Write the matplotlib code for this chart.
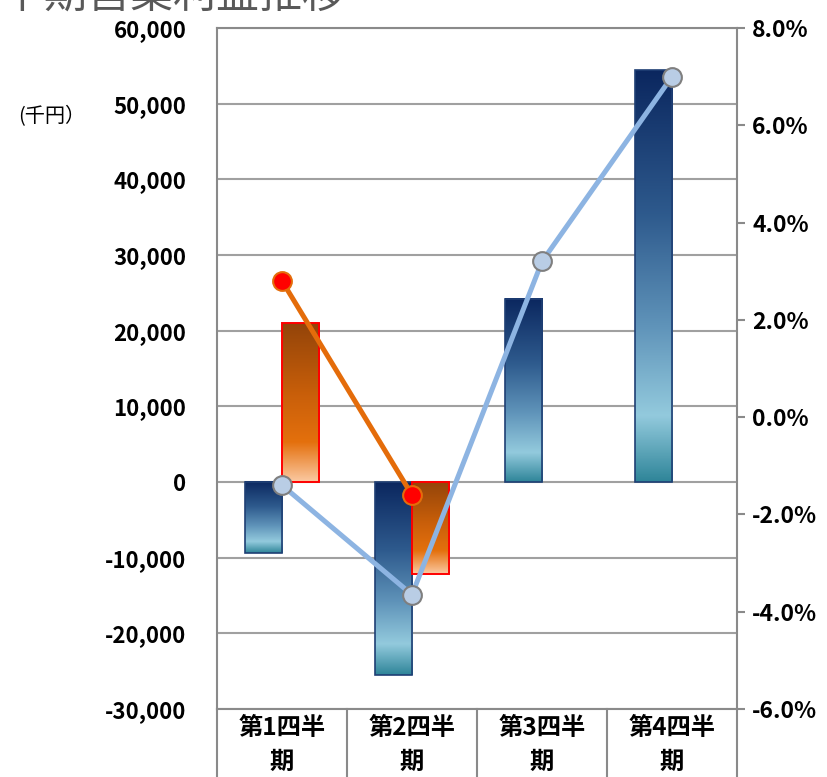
import matplotlib

matplotlib.use("Agg")
import matplotlib.pyplot as plt
import numpy as np
from matplotlib.colors import LinearSegmentedColormap
from matplotlib.ticker import FuncFormatter, MultipleLocator

plt.rcParams['font.family'] = ['Noto Sans CJK JP', 'DejaVu Sans']

# --- データ ---
categories = ["第1四半\n期", "第2四半\n期", "第3四半\n期", "第4四半\n期"]
profit_blue = [-9400, -25500, 24200, 54400]      # 千円
profit_orange = [21000, -12200, 0, 0]            # 千円
rate_blue = [-1.4, -3.65, 3.2, 7.0]               # %
rate_orange = [2.8, -1.6]                         # %
title = "四半期営業利益推移"

blue_cmap = LinearSegmentedColormap.from_list(
    "ocean", [(0, "#0b275f"), (0.35, "#2e5a8d"), (0.62, "#5f93b9"),
              (0.84, "#93cadd"), (1, "#2f8599")])
orange_cmap = LinearSegmentedColormap.from_list(
    "fire", [(0, "#934409"), (0.45, "#c95f0a"), (0.75, "#e4700d"),
             (1, "#fbc9a2")])

fig = plt.figure(figsize=(8.27, 7.77), dpi=100)
ax = fig.add_axes([217 / 827, 1 - 709 / 777, 520 / 827, 681 / 777])
x = np.arange(len(categories))
w = 0.285

bars_b = ax.bar(x - w / 2, profit_blue, w, color="none",
                edgecolor="#1f3f74", lw=1.2, zorder=4)
bars_o = ax.bar(x + w / 2, profit_orange, w, color="none",
                edgecolor="#ff0000", lw=1.4, zorder=4)


def fill_gradient(bars, cmap):
    # グラデーションを各バーの範囲に描く (高さ0のバーは非表示)
    grad = np.linspace(0, 1, 256).reshape(-1, 1)
    for b in bars:
        h = b.get_height()
        if h == 0:
            b.set_visible(False)
            continue
        y0, y1 = sorted([b.get_y(), b.get_y() + h])
        ax.imshow(grad, cmap=cmap, aspect="auto", origin="upper",
                  extent=[b.get_x(), b.get_x() + b.get_width(), y0, y1],
                  zorder=3)


fill_gradient(bars_b, blue_cmap)
fill_gradient(bars_o, orange_cmap)

ax.set_xlim(-0.5, 3.5)
ax.set_ylim(-30000, 60000)
ax.yaxis.set_major_locator(MultipleLocator(10000))
ax.yaxis.set_major_formatter(FuncFormatter(lambda v, p: f"{v:,.0f}"))
ax.grid(axis="y", color="#a0a0a0", lw=1.5)
ax.set_axisbelow(True)
ax.tick_params(axis="y", length=0, pad=22, labelsize=16)
for lab in ax.get_yticklabels():
    lab.set_fontweight("bold")
ax.set_xticks(x)
ax.set_xticklabels(categories, fontsize=17.5, fontweight="bold", linespacing=1.5)
ax.tick_params(axis="x", length=0, pad=5)
for s in ax.spines.values():
    s.set_color("#8a8a8a")
    s.set_linewidth(1.5)

# 項目欄の区切り線
for xb in np.arange(-0.5, 4.0, 1.0):
    ax.plot([xb, xb], [0, -0.2], color="#8a8a8a", lw=1.5,
            transform=ax.get_xaxis_transform(), clip_on=False)

ax2 = ax.twinx()
ax2.set_ylim(-6, 8)
ax2.yaxis.set_major_locator(MultipleLocator(2))
ax2.yaxis.set_major_formatter(FuncFormatter(lambda v, p: f"{v:.1f}%"))
ax2.tick_params(axis="y", length=6, width=1.5, color="#8a8a8a",
                pad=5, labelsize=16.5)
for lab in ax2.get_yticklabels():
    lab.set_fontweight("bold")
for s in ax2.spines.values():
    s.set_visible(False)

ax2.plot(x[:len(rate_orange)], rate_orange, color="#e46c0a", lw=3.6,
         marker="o", ms=13.5, mfc="#ff0000", mec="#e46c0a", mew=1.5, zorder=5)
ax2.plot(x, rate_blue, color="#8db4e2", lw=3.6, marker="o", ms=13.5,
         mfc="#b9cde5", mec="#7f7f7f", mew=1.5, zorder=6)

fig.text(18 / 827, 1 - 117 / 777, "(千円）", fontsize=14.5, va="center")
fig.text(345 / 827, 1 - 8 / 777, title, fontsize=31, color="#595959",
         ha="right", va="baseline")

fig.savefig("out.png", dpi=100)
